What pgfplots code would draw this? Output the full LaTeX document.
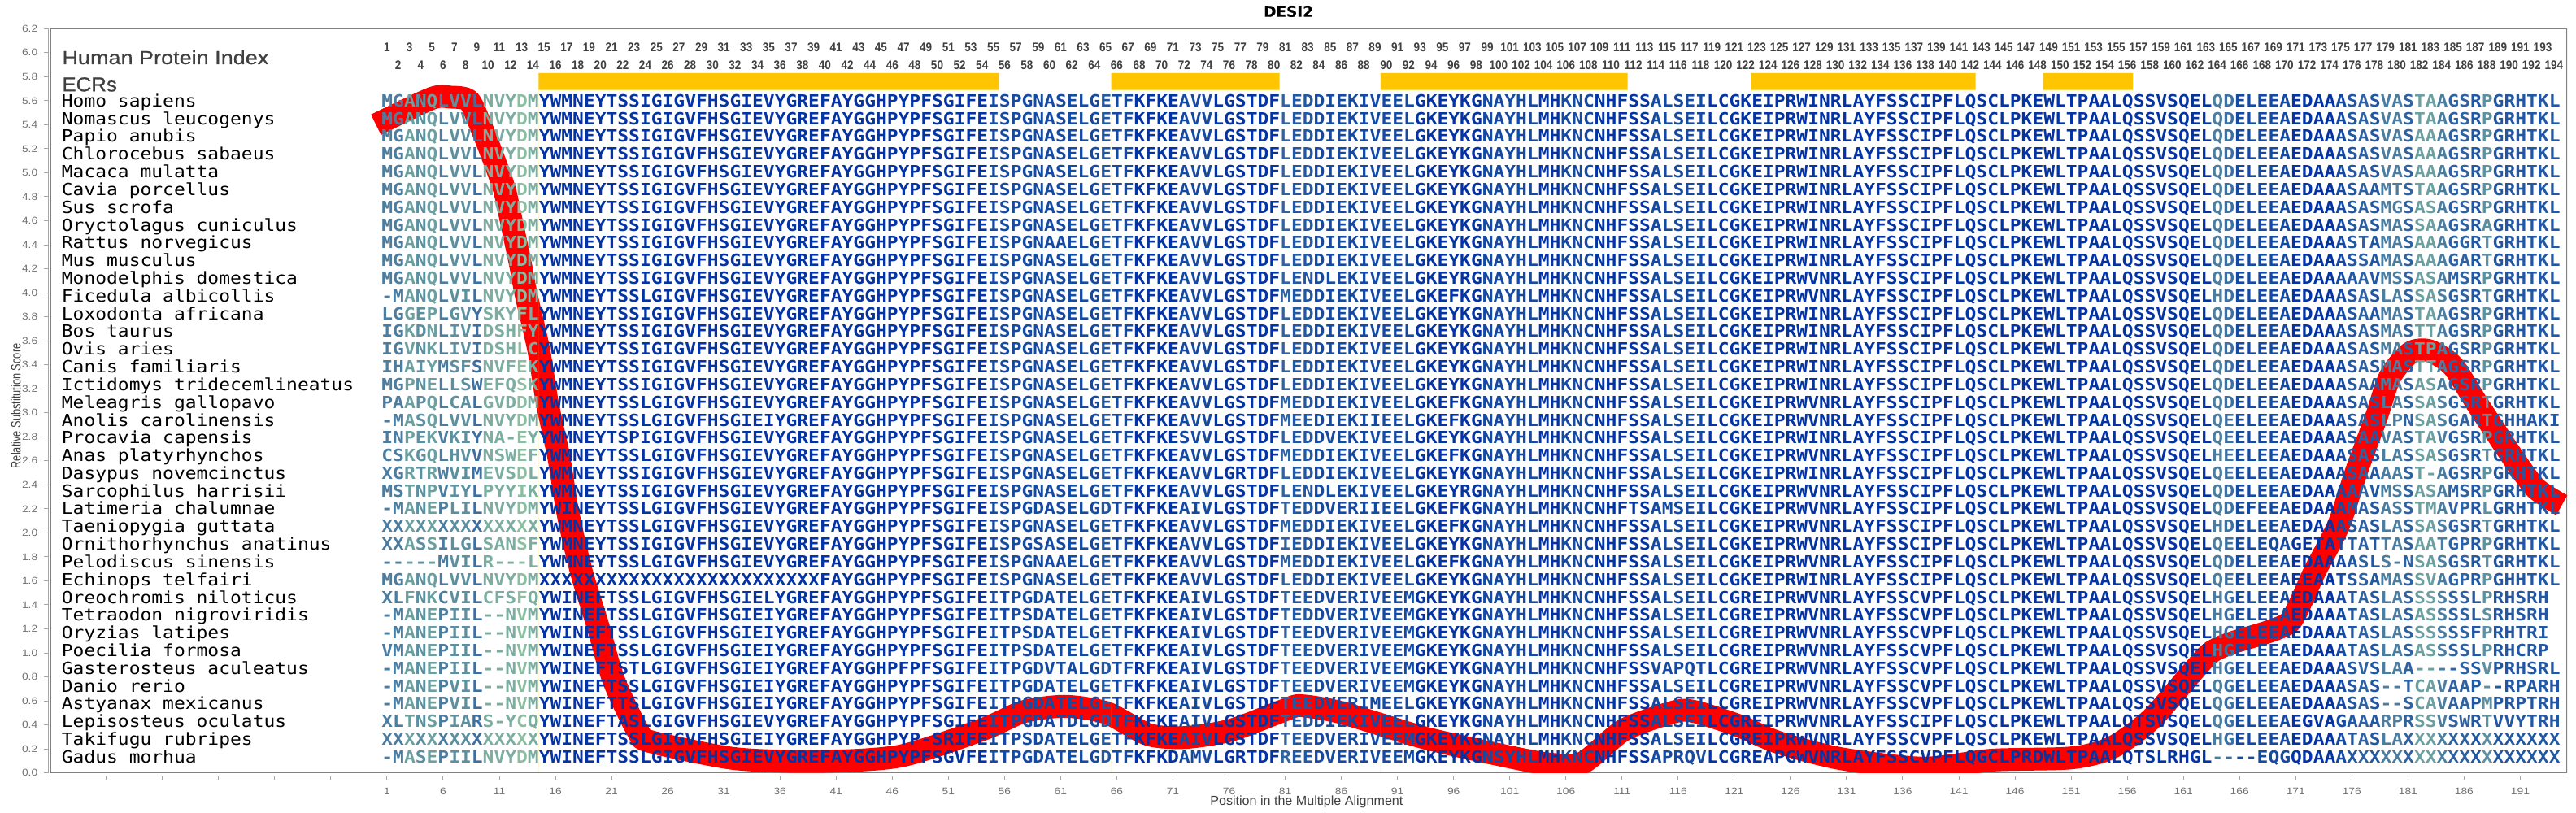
\documentclass[border=0pt]{standalone}
\usepackage{pgfplots}
\usepackage{fontspec}
\pgfplotsset{compat=1.18}
\setmainfont{Liberation Sans}
\newfontfamily\seqf[FakeStretch=1.114]{DejaVu Sans Mono}
\newfontfamily\tickf[FakeStretch=1.15]{Liberation Sans}
\newfontfamily\numf[FakeStretch=0.88]{Liberation Sans}
\newfontfamily\headf[FakeStretch=1.16,FakeBold=0.5]{Liberation Sans}
\newfontfamily\ecrf[FakeStretch=1.05,FakeBold=0.7]{Liberation Sans}
\newfontfamily\titf[FakeBold=0.5]{DejaVu Sans}
\definecolor{lev0}{HTML}{0433A3}
\definecolor{lev1}{HTML}{154AA3}
\definecolor{lev2}{HTML}{2258A3}
\definecolor{lev3}{HTML}{2F62A2}
\definecolor{lev4}{HTML}{3D6FA1}
\definecolor{lev5}{HTML}{4B7DA0}
\definecolor{lev6}{HTML}{5C8FA0}
\definecolor{lev7}{HTML}{6C9FA0}
\definecolor{lev8}{HTML}{7BAEA0}
\definecolor{lev9}{HTML}{8BBDA0}
\definecolor{barc}{HTML}{FFC500}
\definecolor{txtc}{HTML}{404040}
\definecolor{tickc}{HTML}{707070}
\definecolor{framec}{HTML}{808080}
\newcount\cc
\def\setlev#1{\ifx#1\relax\else\global\advance\cc1 \expandafter\xdef\csname L\the\cc\endcsname{#1}\expandafter\setlev\fi}
\cc=0
\setlev 5576756648 8898000000 0000000000 0000000000 0000000000
 0000111111 1111211000 0111000000 3221111111 1100000011
 1110011100 0001111100 0000000000 0000000000 0000000000
 0000000000 0005411111 0000123255 3775332622 2222\relax
\newdimen\cellw \cellw=6.905pt
\def\seqi#1{\ifx#1\relax\else\global\advance\cc1 \hbox to \cellw{\hss\color{lev\csname L\the\cc\endcsname}#1\hss}\expandafter\seqi\fi}
\def\seq#1{\global\cc=0 \edef\seqtmp{#1}\expandafter\seqi\seqtmp\relax}
\def\row#1#2#3{%
 \node[anchor=base west,inner sep=0pt,font=\fontsize{10.3pt}{12pt}\seqf,text=black] at (axis cs:-28.0,#1) {#2};
 \node[anchor=base west,inner sep=0pt,font=\fontsize{10.3pt}{12pt}\seqf\bfseries] at (axis cs:0.5,#1) {\seq{#3}};
}
% shared stretches of the alignment
\def\Wm{YWMNEYTSSI}
\def\Wl{YWMNEYTSSL}
\def\Wi{YWINEFTSSL}
\def\Hd{MGANQLVVLNVYDM}
\def\Bz{GIGVFHSGIEVYGREFAYGGHPYPFSGIFEISPGNASELGETFKFKEAVVLGSTDF}
\def\Cz{DDIEKIVEELGKEYKGNAYHLMHKNCNHFSSALSEILCGKEIPRWINRLAYFSSCIPF}
\def\Cf{DDIEKIVEELGKEFKGNAYHLMHKNCNHFSSALSEILCGKEIPRWVNRLAYFSSCIPF}
\def\Cv{EDVERIVEEMGKEYKGNAYHLMHKNCNHFSSALSEILCGREIPRWVNRLAYFSSCVPF}
\def\Pz{LQSCLPKEWLTPAALQSSVSQEL}
\def\Bt{GIGVFHSGIEIYGREFAYGGHPYPFSGIFEITPSDATELGETFKFKEAIVLGSTDFTE}
\def\Bd{GIGVFHSGIEIYGREFAYGGHPYPFSGIFEITPGDATELGETFKFKEAIVLGSTDFTE}
\begin{document}
\begin{tikzpicture}[x=1pt,y=1pt]
\path[use as bounding box] (-30.85pt,-24.65pt) rectangle (1553.15pt,475.35pt);
\begin{axis}[
  at={(0pt,0pt)},anchor=south west,
  scale only axis,width=1547.65pt,height=457.7pt,
  xmin=-29,xmax=195.17,ymin=0,ymax=6.2,
  axis lines=left,
  axis line style={-,draw=framec!70,line width=0.6pt},
  axis x line shift=1.9pt,
  axis y line shift=1.2pt,
  xtick={1,6,...,191},
  extra x ticks={-29,-24,-19,-14,-9,-4},
  extra x tick labels={},
  ytick={0,0.2,...,6.2},
  yticklabel style={/pgf/number format/fixed,/pgf/number format/fixed zerofill,/pgf/number format/precision=1,/pgf/number format/assume math mode=true},
  xticklabel style={/pgf/number format/assume math mode=true},
  tick label style={font=\fontsize{6pt}{7pt}\tickf,text=tickc},
  tick style={draw=framec!70,line width=0.5pt},
  major tick length=2.4pt,
  tick align=outside,
  xtick pos=bottom,ytick pos=left,
  yticklabel shift=0.6pt,
  xticklabel shift=1.4pt,
  title={DESI2},
  every axis title shift=0pt,
  title style={at={(axis description cs:0.492,1.0233)},anchor=center,yshift=0pt,font=\fontsize{9.2pt}{11pt}\titf\bfseries,text=black},
  xlabel={Position in the Multiple Alignment},
  xlabel style={at={(axis description cs:0.4992,-0.0385)},anchor=center,font=\fontsize{8.05pt}{9pt}\selectfont,text=txtc},
  ylabel={Relative Substitution Score},
  ylabel style={at={(axis description cs:-0.01367,0.493)},anchor=center,rotate=0,font=\fontsize{6.4pt}{9pt}\selectfont,text=txtc,yscale=1.3},
]
\draw[framec,line width=0.9pt] (rel axis cs:0,0) rectangle (rel axis cs:1,1);
\addplot[red,line width=14pt,line cap=butt,line join=round,smooth,tension=0.45] coordinates {
(0.02,5.40)(5,5.62)(6.65,5.63)(8.3,5.60)(9.4,5.38)(10.6,5.09)(11.46,4.86)(12.0,4.63)(12.9,4.23)(13.4,3.98)
(14.5,3.53)(15.3,3.07)(16.3,2.63)(17.1,2.17)(18.3,1.68)(19.8,1.22)(21.2,0.77)(23.4,0.34)(24.5,0.26)
(31.9,0.12)(39.3,0.095)(46.7,0.14)(54,0.36)(57.7,0.51)(61.4,0.555)(65.1,0.50)(68.8,0.32)(72.1,0.295)
(76.2,0.357)(81,0.525)(82.4,0.56)(86.1,0.50)(93.5,0.29)(100.9,0.135)(104.6,0.073)(107.5,0.085)(111.2,0.36)
(115.7,0.51)(117.5,0.51)(121.2,0.40)(124.9,0.255)(130.4,0.12)(137.8,0.04)(143.9,0.106)(151,0.125)(154.6,0.21)
(158.1,0.445)(161.7,0.83)(163.4,1.0)(165.2,1.08)(168.7,1.18)(170.5,1.26)(171.6,1.45)(172.7,1.68)(174.8,2.06)
(176.4,2.51)(178.2,2.97)(179.4,3.30)(181.2,3.50)(182.9,3.517)(185,3.39)(187.2,3.07)(190.4,2.62)(192.4,2.37)(194.7,2.23)
};
\addplot[draw=none,fill=barc] coordinates {(14.5,5.69)(55.5,5.69)(55.5,5.83)(14.5,5.83)} \closedcycle;
\addplot[draw=none,fill=barc] coordinates {(65.5,5.69)(80.5,5.69)(80.5,5.83)(65.5,5.83)} \closedcycle;
\addplot[draw=none,fill=barc] coordinates {(89.5,5.69)(111.5,5.69)(111.5,5.83)(89.5,5.83)} \closedcycle;
\addplot[draw=none,fill=barc] coordinates {(122.5,5.69)(142.5,5.69)(142.5,5.83)(122.5,5.83)} \closedcycle;
\addplot[draw=none,fill=barc] coordinates {(148.5,5.69)(156.5,5.69)(156.5,5.83)(148.5,5.83)} \closedcycle;
\node[anchor=base west,inner sep=0pt,font=\fontsize{11.65pt}{13pt}\headf,text=txtc] at (axis cs:-27.96,5.904) {Human Protein Index};
\node[anchor=base west,inner sep=0pt,font=\fontsize{12.3pt}{14pt}\ecrf,text=txtc] at (axis cs:-27.96,5.678) {ECRs};
\pgfplotsinvokeforeach{1,3,...,193}{\node[inner sep=0pt,font=\fontsize{7.7pt}{9pt}\numf\bfseries,text=txtc] at (axis cs:#1,6.043) {#1};}
\pgfplotsinvokeforeach{2,4,...,194}{\node[inner sep=0pt,font=\fontsize{7.7pt}{9pt}\numf\bfseries,text=txtc] at (axis cs:#1,5.894) {#1};}
\row{5.549}{Homo sapiens}{\Hd \Wm \Bz LE \Cz \Pz QDELEEAEDAAASASVASTAAGSRPGRHTKL}
\row{5.401}{Nomascus leucogenys}{\Hd \Wm \Bz LE \Cz \Pz QDELEEAEDAAASASVASTAAGSRPGRHTKL}
\row{5.254}{Papio anubis}{\Hd \Wm \Bz LE \Cz \Pz QDELEEAEDAAASASVASAAAGSRPGRHTKL}
\row{5.106}{Chlorocebus sabaeus}{\Hd \Wm \Bz LE \Cz \Pz QDELEEAEDAAASASVASAAAGSRPGRHTKL}
\row{4.958}{Macaca mulatta}{\Hd \Wm \Bz LE \Cz \Pz QDELEEAEDAAASASVASAAAGSRPGRHTKL}
\row{4.810}{Cavia porcellus}{\Hd \Wm \Bz LE \Cz \Pz QDELEEAEDAAASAAMTSTAAGSRPGRHTKL}
\row{4.663}{Sus scrofa}{\Hd \Wm \Bz LE \Cz \Pz QDELEEAEDAAASASMGSASAGSRPGRHTKL}
\row{4.515}{Oryctolagus cuniculus}{\Hd \Wm \Bz LE \Cz \Pz QDELEEAEDAAASASMASSAAGSRAGRHTKL}
\row{4.367}{Rattus norvegicus}{\Hd \Wm GIGVFHSGIEVYGREFAYGGHPYPFSGIFEISPGNAAELGETFKFKEAVVLGSTDF LE \Cz \Pz QDELEEAEDAAASTAMASAAAGGRTGRHTKL}
\row{4.220}{Mus musculus}{\Hd \Wm \Bz LE \Cz \Pz QDELEEAEDAAASSAMASAAAGARTGRHTKL}
\row{4.072}{Monodelphis domestica}{\Hd \Wm \Bz LE NDLEKIVEELGKEYRGNAYHLMHKNCNHFSSALSEILCGKEIPRWVNRLAYFSSCIPF \Pz QDELEEAEDAAAAAVMSSASAMSRPGRHTKL}
\row{3.924}{Ficedula albicollis}{-MANQLVILNVYDM \Wl \Bz ME \Cf \Pz HDELEEAEDAAASASLASSASGSRTGRHTKL}
\row{3.777}{Loxodonta africana}{LGGEPLGVYSKYFL \Wm \Bz LE \Cz \Pz QDELEEAEDAAASAAMASTAAGSRPGRHTKL}
\row{3.629}{Bos taurus}{IGKDNLIVIDSHFY \Wm \Bz LE \Cz \Pz QDELEEAEDAAASASMASTTAGSRPGRHTKL}
\row{3.481}{Ovis aries}{IGVNKLIVIDSHLC \Wm \Bz LE \Cz \Pz QDELEEAEDAAASASMASTPAGSRPGRHTKL}
\row{3.333}{Canis familiaris}{IHAIYMSFSNVFEK \Wm \Bz LE \Cz \Pz QDELEEAEDAAASASMASTTAGSRPGRHTKL}
\row{3.186}{Ictidomys tridecemlineatus}{MGPNELLSWEFQSK \Wm \Bz LE \Cz \Pz QDELEEAEDAAASAAMASASAGSRPGRHTKL}
\row{3.038}{Meleagris gallopavo}{PAAPQLCALGVDDM \Wl \Bz ME \Cf \Pz QDELEEAEDAAASASLASSASGSRTGRHTKL}
\row{2.890}{Anolis carolinensis}{-MASQLVVLNVYDM \Wl GIGVFHSGIEIYGREFAYGGHPYPFSGIFEISPGNASELGETFKFKEAVVLGSTDF ME EDIEKIIEELGKEFKGNAYHLMHKNCNHFSSALSEILCGKEIPRWVNRLAYFSSCIPF \Pz QEELEEAEDAAASASLPNSASGARTGHHAKI}
\row{2.743}{Procavia capensis}{INPEKVKIYNA-EY YWMNEYTSPI GIGVFHSGIEVYGREFAYGGHPYPFSGIFEISPGNASELGETFKFKESVVLGSTDF LE DDVEKIVEELGKEYKGNAYHLMHKNCNHFSSALSEILCGKEIPRWINRLAYFSSCIPF \Pz QEELEEAEDAAASAAVASTAVGSRPGRHTKL}
\row{2.595}{Anas platyrhynchos}{CSKGQLHVVNSWEF \Wl \Bz ME \Cf \Pz HEELEEAEDAAASASLASSASGSRTGRHTKL}
\row{2.447}{Dasypus novemcinctus}{XGRTRWVIMEVSDL \Wm GIGVFHSGIEVYGREFAYGGHPYPFSGIFEISPGNASELGETFKFKEAVVLGRTDF LE \Cz \Pz QEELEEAEDAAASAAAAST-AGSRPGRHTKL}
\row{2.300}{Sarcophilus harrisii}{MSTNPVIYLPYYIK \Wm \Bz LE NDLEKIVEELGKEYRGNAYHLMHKNCNHFSSALSEILCGKEIPRWVNRLAYFSSCIPF \Pz QDELEEAEDAAAAAVMSSASAMSRPGRHTKL}
\row{2.152}{Latimeria chalumnae}{-MANEPLILNVYDM YWINEYTSSL GIGVFHSGIEVYGREFAYGGHPYPFSGIFEISPGDASELGDTFKFKEAIVLGSTDF TE DDVERIIEELGKEFKGNAYHLMHKNCNHFTSAMSEILCGKEIPRWVNRLAYFSSCIPF \Pz QDEFEEAEDAAAMASASSTMAVPRLGRHTKL}
\row{2.004}{Taeniopygia guttata}{XXXXXXXXXXXXXX \Wl \Bz ME \Cf \Pz HDELEEAEDAAASASLASSASGSRTGRHTKL}
\row{1.856}{Ornithorhynchus anatinus}{XXASSILGLSANSF \Wm GIGVFHSGIEVYGREFAYGGHPYPFSGIFEISPGSASELGETFKFKEAVVLGSTDF IE DDIEKIVEELGKEYKGNAYHLMHKNCNHFSSALSEILCGKEIPRWVNRLAYFSSCIPF \Pz QEELEQAGETATTATTASAATGPRPGRHTKL}
\row{1.709}{Pelodiscus sinensis}{-----MVILR---L \Wl GIGVFHSGIEVYGREFAYGGHPYPFSGIFEISPGNAAELGETFKFKEAVVLGSTDF ME \Cf \Pz QDELEEAEDAAAASLS-NSASGSRTGRHTKL}
\row{1.561}{Echinops telfairi}{\Hd XXXXXXXXXX XXXXXXXXXXXXXXX FAYGGHPYPFSGIFEISPGNASELGETFKFKEAVVLGSTDF LE \Cz \Pz QEELEEAEEAATSSAMASSVAGPRPGHHTKL}
\row{1.413}{Oreochromis niloticus}{XLFNKCVILCFSFQ \Wi GIGVFHSGIELYGREFAYGGHPYPFSGIFEITPGDATELGETFKFKEAIVLGSTDF TE \Cv \Pz HGELEEAEDAAATASLASSSSSSLPRHSRH}
\row{1.266}{Tetraodon nigroviridis}{-MANEPIIL--NVM \Wi \Bt DDVERIVEEMGKEYKGNAYHLMHKNCNHFSSALSEILCGREIPRWVNRLAYFSSCVPF \Pz HGELEEAEDAAATASLASASSSSLSRHSRH}
\row{1.118}{Oryzias latipes}{-MANEPIIL--NVM \Wi \Bt \Cv \Pz HGELEEAEDAAATASLASSSSSSFPRHTRI}
\row{0.970}{Poecilia formosa}{VMANEPIIL--NVM \Wi \Bt \Cv \Pz HGELEEAEDAAATASLASASSSSLPRHCRP}
\row{0.823}{Gasterosteus aculeatus}{-MANEPIIL--NVM YWINEFTSTL GIGVFHSGIEIYGREFAYGGHPFPFSGIFEITPGDVTALGDTFRFKEAIVLGSTDF TE EDVERIVEEMGKEYKGNAYHLMHKNCNHFSSVAPQTLCGREIPRWVNRLAYFSSCVPF \Pz HGELEEAEDAAASVSLAA----SSVPRHSRL}
\row{0.675}{Danio rerio}{-MANEPVIL--NVM \Wi \Bd \Cv \Pz QGELEEAEDAAASAS--TCAVAAP--RPARH}
\row{0.527}{Astyanax mexicanus}{-MANEPVIL--NVM YWINEFTTSL \Bd EDVERIMEELGKEYKGNAYHLMHKNCNHFSSALSEILCGREIPRWVNRLAYFSSCVPF \Pz QGELEEAEDAAASAS--SCAVAAPMPRPTRH}
\row{0.379}{Lepisosteus oculatus}{XLTNSPIARS-YCQ YWINEFTASL GIGVFHSGIEVYGREFAYGGHPYPFSGIFEITPGDATDLGDTFKFKEAIVLGSTDF TE DDIEKIVEELGKEYKGNAYHLMHKNCNHFSSALSEILCGREIPRWVNRLAYFSSCIPF LQSCLPKEWLTPAALQTSVSQEL QGELEEAEGVAGAAARPRSSVSWRTVVYTRH}
\row{0.232}{Takifugu rubripes}{XXXXXXXXXXXXXX \Wi GIGVFHSGIEIYGREFAYGGHPYP-SRIFEITPSDATELGETFKFKEAIVLGSTDF TE \Cv \Pz HGELEEAEDAAATASLAXXXXXXXXXXXXXX}
\row{0.084}{Gadus morhua}{-MASEPIILNVYDM \Wi GIGVFHSGIEVYGREFAYGGHPYPFSGVFEITPGDATELGDTFKFKDAMVLGRTDF RE EDVERIVEEMGKEYKGNSYHLMHKNCNHFSSAPRQVLCGREAPGWVNRLAYFSSCVPF LQGCLPRDWLTPAALQTSLRHGL ----EQGQDAAAXXXXXXXXXXXXXXXXXXX}
\end{axis}
\end{tikzpicture}
\end{document}
